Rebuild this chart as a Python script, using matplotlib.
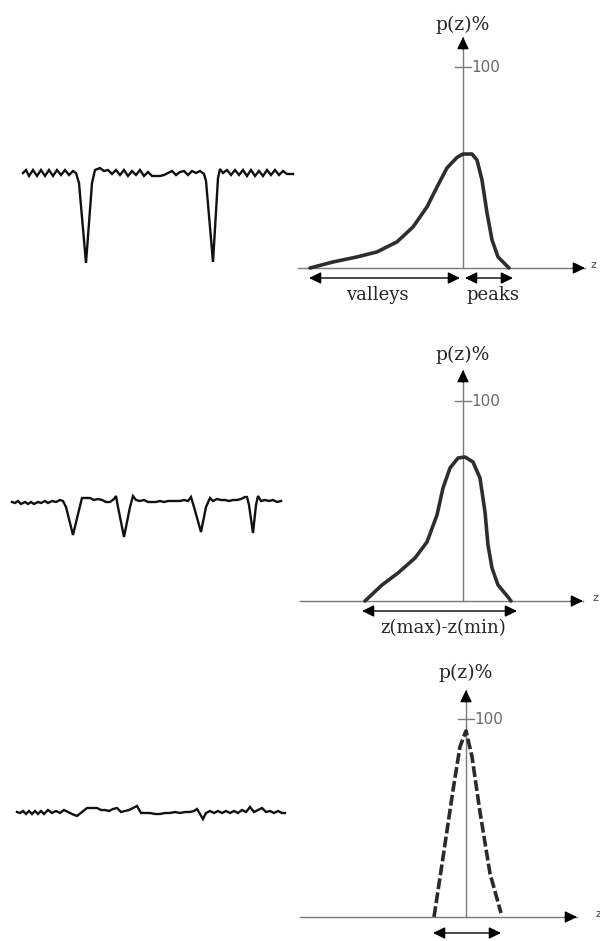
import matplotlib.pyplot as plt

# ---- surface profiles (position, height) ----
prof1_x = [23, 26, 29, 33, 37, 41, 45, 49, 53, 57, 61, 65, 69, 73, 76,
           79, 86, 92, 95, 100, 104,
           108, 112, 116, 120, 124, 128, 132, 136, 140, 144, 148, 152, 156, 160,
           164, 168, 172, 176, 180, 184, 188, 192, 196, 200, 204,
           206, 213, 218, 220, 223,
           227, 231, 235, 239, 243, 247, 251, 255, 259, 263, 267, 271, 275, 279,
           283, 287, 293]
prof1_h = [0, 3, -3, 3, -3, 3, -3, 3, -3, 3, -2, 3, -2, 2, 0,
           -10, -90, -10, 3, 5, 2,
           3, -1, 3, -2, 3, -3, 2, -2, 3, -3, 1, -3, -3, -3,
           -2, 0, 2, -2, 1, 2, -2, 2, 0, 2, -1,
           -8, -89, -5, 4, 0,
           3, -2, 3, -2, 3, -3, 3, -3, 2, -3, 3, -2, 3, -2,
           2, -1, -1]

prof2_x = [12, 15, 18, 21, 25, 28, 31, 34, 38, 41, 45, 48, 52, 56, 60, 63,
           66, 73, 79, 82, 86, 90, 94, 98, 102, 106, 110, 114, 116,
           118, 124, 130, 133, 136, 140, 144, 148, 152, 156, 160, 164, 168, 172,
           176, 180, 184, 188, 191,
           194, 201, 206, 210, 213, 217, 221, 225, 229, 233, 237, 241, 245, 247,
           249, 253, 256, 258, 261, 265, 269, 273, 277, 281]
prof2_h = [0, -1, 1, -2, 0, -2, 0, -2, 0, -1, 1, -1, 1, 0, 2, 1,
           -5, -33, -8, 4, 4, 4, 2, 3, 2, 0, 0, 3, 6,
           -5, -35, -5, 6, 2, 1, 2, 0, 0, 0, 1, 0, 1, 1,
           1, 1, 2, 1, 5,
           -5, -30, -5, 4, 1, 3, 2, 2, 1, 2, 2, 3, 5, 5,
           -3, -31, -3, 6, 1, 2, 1, 2, 0, 1]

prof3_x = [17, 20, 23, 26, 29, 32, 35, 38, 41, 44, 48, 52, 56, 60, 64, 68,
           72, 77, 82, 87, 92, 97, 101, 105, 109, 113, 117, 121, 125, 129,
           133, 137, 141, 145, 150, 155, 160, 165, 170, 175, 180, 185, 190,
           194, 197, 200, 203, 206, 210, 214, 218, 222, 226, 230, 234, 238,
           242, 246, 250, 254, 258, 262, 266, 270, 274, 278, 282, 285]
prof3_h = [0, -1, 1, -2, 1, -2, 1, -2, 1, -2, 2, -1, 1, -1, 2, 0,
           -2, -4, 0, 4, 4, 4, 2, 2, 1, 3, 4, 0, 1, 2,
           4, 6, -1, -1, -1, -2, -2, -1, -1, 0, -1, 0, 0,
           1, 3, -2, -7, -1, 1, -1, 1, -1, 1, -1, 1, -1,
           2, 0, 5, 0, 2, 4, 0, 1, -1, 1, -1, -1]

# ---- height distributions p(z) in % ----
z1 = [-15.3, -13.0, -10.6, -8.6, -6.6, -5.0, -3.6, -2.6, -1.6, -0.6, 0.0, 0.9,
      1.4, 1.9, 2.4, 2.9, 3.5, 4.4, 4.6]
p1 = [0, 3, 5.5, 8, 13, 20.4, 30.4, 40.3, 49.8, 55, 56.7, 56.7,
      53.7, 43.8, 27.4, 14, 5.5, 1, 0]

z2 = [-9.8, -8.1, -6.5, -4.8, -3.6, -2.6, -2.0, -1.3, -0.5, 0.2, 1.0, 1.7,
      2.2, 2.5, 2.9, 3.5, 4.5, 4.8]
p2 = [0, 8, 14, 21.5, 29.5, 43, 56.5, 66.5, 71.5, 72, 69.5, 61.5,
      44.5, 28, 16.5, 8, 2, 0]

z3 = [-3.2, -2.3, -1.3, -0.6, 0.0, 0.6, 1.4, 2.4, 3.5]
p3 = [0, 30, 64, 86, 94, 81, 53, 22, 2]

W, H = 600, 941
fig = plt.figure(figsize=(6, 9.41), dpi=100)
fig.patch.set_facecolor('white')

AX_GRAY = '#7a7a7a'
INK = '#262626'
SERIF = 'DejaVu Serif'
HEAD = '-|>,head_length=0.45,head_width=0.22'
DHEAD = '<|-|>,head_length=0.45,head_width=0.22'


def box_axes(x0, y0, x1, y1):
    ax = fig.add_axes([x0 / W, 1 - y1 / H, (x1 - x0) / W, (y1 - y0) / H])
    ax.set_axis_off()
    return ax


def profile(x, h, top, bottom, base):
    ax = box_axes(0, top, 300, bottom)
    ax.set_xlim(0, 300)
    ax.set_ylim(base - bottom, base - top)
    ax.plot(x, h, color='#111111', lw=1.7, solid_joinstyle='miter')


def distribution(z, p, top, bottom, x_axis, base, p100, tip_y, lab_y,
                 xline0, xtip, ztxt, style, ranges, texts):
    ax = box_axes(290, top, 600, bottom)
    zpx = 10.0
    ppx = (base - p100) / 100.0
    ax.set_xlim((290 - x_axis) / zpx, (600 - x_axis) / zpx)
    ax.set_ylim((base - bottom) / ppx, (base - top) / ppx)
    zx = lambda px: (px - x_axis) / zpx
    py = lambda px: (base - px) / ppx

    # axes lines with arrow heads
    ax.plot([0, 0], [0, py(tip_y)], color=AX_GRAY, lw=1.0)
    ax.annotate('', xy=(0, py(tip_y)), xytext=(0, py(tip_y + 12)),
                arrowprops=dict(arrowstyle=HEAD, color='black', lw=1,
                                mutation_scale=16, shrinkA=0, shrinkB=0))
    ax.plot([zx(xline0), zx(xtip)], [0, 0], color=AX_GRAY, lw=1.0)
    ax.annotate('', xy=(zx(xtip), 0), xytext=(zx(xtip - 12), 0),
                arrowprops=dict(arrowstyle=HEAD, color='black', lw=1,
                                mutation_scale=16, shrinkA=0, shrinkB=0))
    ax.text(zx(ztxt), py(base - 3), 'z', fontsize=8, color='#444444',
            ha='center', va='center')

    # 100 % tick
    ax.plot([zx(x_axis - 8), zx(x_axis + 8)], [100, 100], color=AX_GRAY, lw=1.0)
    ax.text(zx(x_axis + 8), 100, '100', fontsize=11, color='#6a6a6a',
            ha='left', va='center')
    ax.text(0, py(lab_y), 'p(z)%', fontsize=13.5, family=SERIF, color=INK,
            ha='center', va='center')

    # distribution curve
    if style == 'dashed':
        ax.plot(z, p, color='#2a2a2a', lw=2.6, linestyle=(0, (3, 0.9)))
    else:
        ax.plot(z, p, color='#2e2e2e', lw=2.6, solid_joinstyle='round',
                solid_capstyle='round')

    # range arrows and their labels
    for (a, b, y) in ranges:
        ax.annotate('', xy=(zx(b), py(y)), xytext=(zx(a), py(y)),
                    arrowprops=dict(arrowstyle=DHEAD, color='black', lw=1,
                                    mutation_scale=16, shrinkA=0, shrinkB=0))
    for (tx, ty, s) in texts:
        ax.text(zx(tx), py(ty), s, fontsize=13, family=SERIF, color=INK,
                ha='center', va='center')


profile(prof1_x, prof1_h, 110, 290, 173)
profile(prof2_x, prof2_h, 460, 560, 502)
profile(prof3_x, prof3_h, 780, 845, 812)

distribution(z1, p1, 5, 310, 463, 268, 67, 37, 25, 298, 585, 593, 'solid',
             [(309, 460, 278), (465, 513, 278)],
             [(377, 295, 'valleys'), (493, 295, 'peaks')])
distribution(z2, p2, 335, 645, 463, 601, 401, 370, 355, 300, 583, 595, 'solid',
             [(362, 517, 611)],
             [(443, 628, 'z(max)-z(min)')])
distribution(z3, p3, 655, 941, 466, 917, 719, 690, 673, 300, 577, 598, 'dashed',
             [(433, 501, 933)], [])

fig.savefig('out.png', dpi=100, facecolor='white')
